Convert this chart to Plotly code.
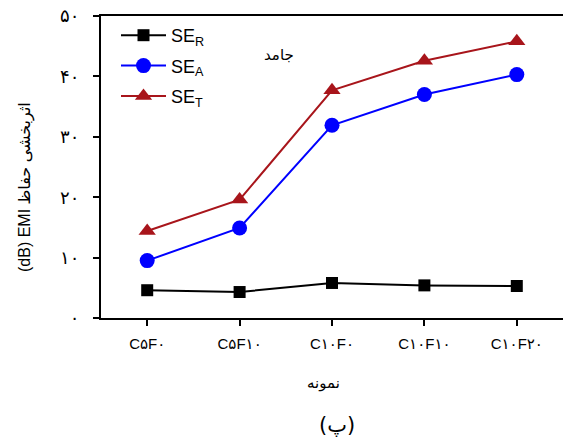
import plotly.graph_objects as go

categories = ["C۵F۰", "C۵F۱۰", "C۱۰F۰", "C۱۰F۱۰", "C۱۰F۲۰"]
se_r = [4.6, 4.3, 5.8, 5.4, 5.3]
se_a = [9.5, 14.9, 31.9, 37.0, 40.3]
se_t = [14.4, 19.6, 37.7, 42.6, 45.8]
y_tickvals = [0, 10, 20, 30, 40, 50]
y_ticktext = ["۰", "۱۰", "۲۰", "۳۰", "۴۰", "۵۰"]

red = "#A8151B"
font_main = "Liberation Sans, Arial, DejaVu Sans, sans-serif"
font_fa = "DejaVu Sans, sans-serif"

# plot area spans page x 101..563, y 16..318 (body margin removed below)
PL, PW, PT, PH = 101, 462, 16, 302


def px(X):
    return (X - PL) / PW


def py(Y):
    return (PT + PH - Y) / PH


fig = go.Figure()
fig.add_trace(go.Scatter(x=categories, y=se_r, mode="lines+markers", name="SE<sub>R</sub>",
                         line=dict(color="black", width=2),
                         marker=dict(symbol="square", size=12, color="black"),
                         legendgroup="r"))
fig.add_trace(go.Scatter(x=categories, y=se_a, mode="lines+markers", name="SE<sub>A</sub>",
                         line=dict(color="#0000FF", width=2),
                         marker=dict(symbol="circle", size=15, color="#0000FF"),
                         legendgroup="a"))
fig.add_trace(go.Scatter(x=categories, y=se_t, mode="lines+markers", name="SE<sub>T</sub>",
                         line=dict(color=red, width=2),
                         marker=dict(symbol="triangle-up", size=15, color=red),
                         legendgroup="t"))

fig.update_layout(
    width=563, height=440,
    margin=dict(l=PL, r=563 - PL - PW, t=PT, b=440 - PT - PH),
    paper_bgcolor="white", plot_bgcolor="white",
    font=dict(family=font_main, color="black", size=14),
    showlegend=True,
    legend=dict(x=px(116), y=py(17), xanchor="left", yanchor="top",
                font=dict(size=18, family=font_main), itemwidth=45,
                bgcolor="rgba(0,0,0,0)", tracegroupgap=4, traceorder="grouped"),
    xaxis=dict(type="category", range=[-0.5, 4.5], showline=True, linecolor="black",
               linewidth=2, mirror=True, ticks="outside", ticklen=6, tickwidth=1.5,
               tickcolor="black", showgrid=False, zeroline=False, automargin=False,
               tickfont=dict(size=15, family=font_main), ticklabelstandoff=5),
    yaxis=dict(range=[0, 50], tickvals=y_tickvals, ticktext=y_ticktext, showline=True,
               linecolor="black", linewidth=2, mirror=False, ticks="outside", ticklen=6,
               tickwidth=1.5, tickcolor="black", showgrid=False, zeroline=False,
               automargin=False,
               tickfont=dict(size=18, family=font_fa), ticklabelstandoff=10,
               ticklabeloverflow="allow"),
)

fig.add_annotation(text="جامد", xref="paper", yref="paper", x=px(279), y=py(55),
                   xanchor="center", yanchor="middle", showarrow=False,
                   font=dict(size=15, family=font_fa))
fig.add_annotation(text="(dB) EMI اثربخشی حفاظ", xref="paper", yref="paper",
                   x=px(25), y=py(187), xanchor="center", yanchor="middle",
                   textangle=-90, showarrow=False,
                   font=dict(size=16, family=font_main))
fig.add_annotation(text="نمونه", xref="paper", yref="paper", x=px(323), y=py(383),
                   xanchor="center", yanchor="middle", showarrow=False,
                   font=dict(size=15, family=font_fa))
fig.add_annotation(text="(پ)", xref="paper", yref="paper", x=px(337), y=py(425),
                   xanchor="center", yanchor="middle", showarrow=False,
                   font=dict(size=21, family=font_fa))

fig.write_html("out.html", config={"displayModeBar": False},
               post_script="document.body.style.margin='0';document.body.style.overflow='hidden';")
